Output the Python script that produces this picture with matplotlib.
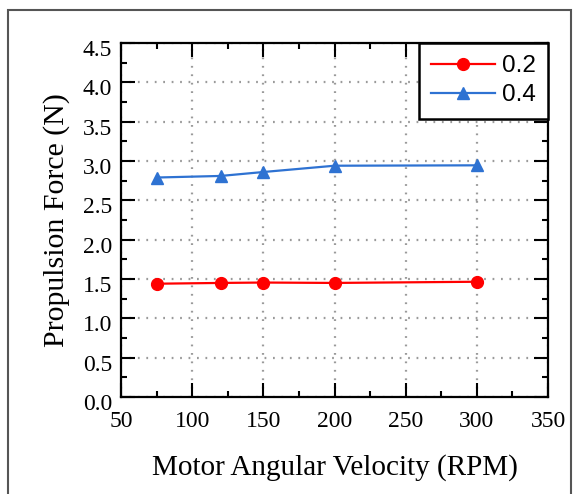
import matplotlib
matplotlib.use("Agg")
import matplotlib.pyplot as plt
import matplotlib.transforms as mtransforms
from matplotlib.ticker import MultipleLocator, FormatStrFormatter
from matplotlib.patches import Rectangle

rpm = [75, 120, 150, 200, 300]
force_02 = [1.44, 1.45, 1.455, 1.45, 1.465]
force_04 = [2.79, 2.81, 2.86, 2.94, 2.945]
series_labels = ["0.2", "0.4"]
x_label = "Motor Angular Velocity (RPM)"
y_label = "Propulsion Force (N)"

serif = ["Liberation Serif", "DejaVu Serif"]
plt.rcParams["font.family"] = serif
plt.rcParams["xtick.labelsize"] = 17
plt.rcParams["ytick.labelsize"] = 17

W, H = 574, 494
fig = plt.figure(figsize=(W / 100, H / 100), dpi=100)
L, R, T, B = 121, 548, 43, 397
ax = fig.add_axes([L / W, 1 - B / H, (R - L) / W, (B - T) / H])

# outer frame
fig.patches.append(Rectangle((8 / W, -0.05), (571 - 8) / W, 1.05 - 10 / H,
                             transform=fig.transFigure, fill=False,
                             edgecolor="#555555", linewidth=1.5))

ax.plot(rpm, force_02, color="#ff0000", marker="o", markersize=8.5, linewidth=1.6,
        label=series_labels[0], zorder=3)
ax.plot(rpm, force_04, color="#2e72d2", marker="^", markersize=8, linewidth=1.6,
        label=series_labels[1], zorder=3)

ax.set_xlim(50, 350)
ax.set_ylim(0, 4.5)
ax.xaxis.set_major_locator(MultipleLocator(50))
ax.xaxis.set_minor_locator(MultipleLocator(25))
ax.yaxis.set_major_locator(MultipleLocator(0.5))
ax.yaxis.set_minor_locator(MultipleLocator(0.25))
ax.yaxis.set_major_formatter(FormatStrFormatter("%.1f"))

ax.tick_params(which="both", direction="in", top=True, right=True, width=1.5)
ax.tick_params(which="major", length=10)
ax.tick_params(which="minor", length=4.5)
ax.tick_params(axis="x", which="major", pad=10)
ax.tick_params(axis="y", which="major", pad=6.5)

for s in ax.spines.values():
    s.set_linewidth(1.6)

ax.grid(True, which="major", linestyle=(0, (0.8, 3)), color="#9a9a9a", linewidth=1.6)
ax.set_axisbelow(True)

ax.set_xlabel(x_label, fontsize=21, labelpad=16)
ax.set_ylabel(y_label, fontsize=21.5, labelpad=9)

leg = ax.legend(loc="upper right", prop={"family": "Liberation Sans", "size": 17.5},
                fancybox=False, edgecolor="black", framealpha=1,
                borderaxespad=0, handlelength=2.6, handletextpad=0.3,
                labelspacing=0.3, borderpad=0.5)
leg.get_frame().set_linewidth(1.8)

# y tick labels sit slightly below their ticks in the reference
fig.canvas.draw()
offset = mtransforms.ScaledTranslation(0, -5 / 100, fig.dpi_scale_trans)
for tick in ax.yaxis.get_major_ticks():
    tick.label1.set_transform(tick.label1.get_transform() + offset)

fig.savefig("out.png", dpi=100)
